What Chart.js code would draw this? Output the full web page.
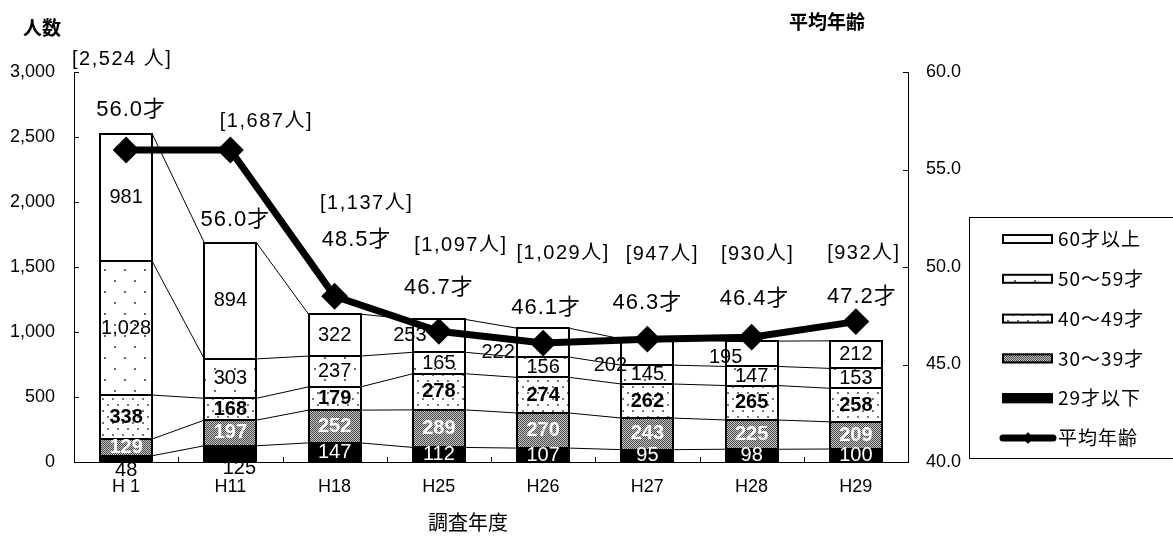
<!DOCTYPE html>
<html>
<head>
<meta charset="utf-8">
<script src="https://cdn.jsdelivr.net/npm/chart.js@4.4.0/dist/chart.umd.min.js"></script>
<style>
  html, body { margin: 0; padding: 0; background: #fff; }
  canvas { display: block; }
</style>
</head>
<body>
<canvas id="chart" width="1173" height="536"></canvas>
<script>
// survey years and head counts by age band
var years = ['H 1', 'H11', 'H18', 'H25', 'H26', 'H27', 'H28', 'H29'];
var under29 = [48, 125, 147, 112, 107, 95, 98, 100];
var age30s = [129, 197, 252, 289, 270, 243, 225, 209];
var age40s = [338, 168, 179, 278, 274, 262, 265, 258];
var age50s = [1028, 303, 237, 165, 156, 145, 147, 153];
var over60 = [981, 894, 322, 253, 222, 202, 195, 212];
var totals = [2524, 1687, 1137, 1097, 1029, 947, 930, 932];
var avgAge = [56.0, 56.0, 48.5, 46.7, 46.1, 46.3, 46.4, 47.2];

var countTicks = { min: 0, max: 3000, step: 500 };
var ageTicks = { min: 40, max: 60, step: 5 };

var FONT = "'Liberation Sans', 'Noto Sans CJK JP', sans-serif";
var JP = "'Noto Sans CJK JP', 'Liberation Sans', sans-serif";

var canvas = document.getElementById('chart');
var ctx = canvas.getContext('2d');

function tile(w, h, paint) {
  var c = document.createElement('canvas');
  c.width = w; c.height = h;
  var g = c.getContext('2d');
  g.fillStyle = '#fff';
  g.fillRect(0, 0, w, h);
  paint(g);
  return ctx.createPattern(c, 'repeat');
}

var sparseDots = tile(20, 22, function (g) {
  g.fillStyle = '#666';
  g.fillRect(4, 5, 2, 2);
  g.fillRect(14, 16, 2, 2);
});
var denseDots = tile(10, 12, function (g) {
  g.fillStyle = '#777';
  g.fillRect(2, 2, 2, 2);
  g.fillRect(7, 8, 2, 2);
});
var checker = tile(2, 2, function (g) {
  g.fillStyle = '#4a4a4a';
  g.fillRect(0, 0, 1, 1);
  g.fillRect(1, 1, 1, 1);
  g.fillStyle = '#c4c4c4';
  g.fillRect(1, 0, 1, 1);
  g.fillRect(0, 1, 1, 1);
});

function barSet(label, data, fill, textColor, weight) {
  return {
    type: 'bar', label: label, data: data, yAxisID: 'y', order: 1,
    backgroundColor: fill, borderWidth: 0,
    barPercentage: 0.5, categoryPercentage: 1.0,
    textColor: textColor, textWeight: weight
  };
}

// label nudges (px) for crowded segments: key = dataset index + '-' + category index
var segNudge = {
  '1-0': { dx: 0, dy: 12, color: '#000' },
  '1-1': { dx: 9, dy: 15, color: '#000' },
  '5-3': { dx: -29, dy: 0 },
  '5-4': { dx: -45, dy: 10 },
  '5-5': { dx: -37, dy: 13 },
  '5-6': { dx: -26, dy: 4 }
};
var ageNudge = [[5, -40], [5, 70], [22, -56], [0, -43], [3, -35], [0, -36], [3, -38], [6, -25]];
var totalNudge = [[-4, -74], [36, -121], [32, -111], [22, -74], [20, -75], [15, -84], [6, -87], [8, -87]];

var datasets = [
  {
    type: 'line', label: '平均年齢', data: avgAge, yAxisID: 'y1', order: 0,
    borderColor: '#000', borderWidth: 7, backgroundColor: '#000',
    pointStyle: 'rectRot', pointRadius: 12, pointBorderWidth: 2,
    pointBackgroundColor: '#000', pointBorderColor: '#000', tension: 0
  },
  barSet('29才以下', under29, '#000', '#fff', 'normal'),
  barSet('30～39才', age30s, checker, '#fff', 'bold'),
  barSet('40～49才', age40s, denseDots, '#000', 'bold'),
  barSet('50～59才', age50s, sparseDots, '#000', 'normal'),
  barSet('60才以上', over60, '#fff', '#000', 'normal')
];

function text(str, x, y, font, color, align, spacing) {
  ctx.save();
  ctx.font = font;
  ctx.fillStyle = color || '#000';
  ctx.textAlign = align || 'center';
  ctx.textBaseline = 'middle';
  ctx.letterSpacing = spacing || '0px';
  ctx.fillText(str, x, y);
  ctx.restore();
}

var decorations = {
  id: 'decorations',
  beforeDatasetsDraw: function (chart) {
    // thin series lines joining the segment tops of neighbouring bars
    var c = chart.ctx;
    c.save();
    c.strokeStyle = '#000';
    c.lineWidth = 1;
    chart.data.datasets.forEach(function (ds, i) {
      if (ds.type !== 'bar') return;
      var els = chart.getDatasetMeta(i).data;
      for (var j = 0; j < els.length - 1; j++) {
        var a = els[j], b = els[j + 1];
        c.beginPath();
        c.moveTo(a.x + a.width / 2, a.y);
        c.lineTo(b.x - b.width / 2, b.y);
        c.stroke();
      }
    });
    c.restore();
  },
  afterDatasetDraw: function (chart, args) {
    // bars are drawn top series first, so index 1 is the last bar set
    if (args.index !== 1) return;
    var c = chart.ctx;
    var barIdx = [1, 2, 3, 4, 5];
    var base = args.meta.data;
    // 2px frames around every segment
    c.save();
    c.strokeStyle = '#000';
    c.lineWidth = 2;
    base.forEach(function (el, j) {
      var l = Math.round(el.x - el.width / 2);
      var r = Math.round(el.x + el.width / 2);
      var bt = Math.round(el.base);
      var tp = Math.round(chart.getDatasetMeta(5).data[j].y);
      c.beginPath();
      c.moveTo(l, bt); c.lineTo(l, tp);
      c.moveTo(r, bt); c.lineTo(r, tp);
      c.moveTo(l - 1, bt); c.lineTo(r + 1, bt);
      barIdx.forEach(function (di) {
        var y = Math.round(chart.getDatasetMeta(di).data[j].y);
        c.moveTo(l - 1, y); c.lineTo(r + 1, y);
      });
      c.stroke();
    });
    c.restore();
    // segment values
    barIdx.forEach(function (di) {
      var ds = chart.data.datasets[di];
      chart.getDatasetMeta(di).data.forEach(function (el, j) {
        var n = segNudge[di + '-' + j] || {};
        var x = el.x + (n.dx || 0);
        var y = (el.y + el.base) / 2 + (n.dy || 0);
        text(ds.data[j].toLocaleString('en-US'), x, y,
          ds.textWeight + ' 20px ' + FONT, n.color || ds.textColor);
      });
    });
  },
  afterDraw: function (chart) {
    var c = chart.ctx;
    var area = chart.chartArea;
    var sy = chart.scales.y, sy1 = chart.scales.y1;

    // inward tick marks
    c.save();
    c.strokeStyle = '#000';
    c.lineWidth = 1;
    c.beginPath();
    sy.ticks.forEach(function (t) {
      var p = Math.round(sy.getPixelForValue(t.value)) + 0.5;
      c.moveTo(area.left, p); c.lineTo(area.left + 5, p);
    });
    sy1.ticks.forEach(function (t) {
      var p = Math.round(sy1.getPixelForValue(t.value)) + 0.5;
      c.moveTo(area.right, p); c.lineTo(area.right - 5, p);
    });
    var cw = (area.right - area.left) / years.length;
    for (var k = 1; k < years.length; k++) {
      var px = Math.round(area.left + k * cw) + 0.5;
      c.moveTo(px, area.bottom); c.lineTo(px, area.bottom - 5);
    }
    c.stroke();
    c.restore();

    // average age and head-count totals
    var line = chart.getDatasetMeta(0).data;
    var top = chart.getDatasetMeta(5).data;
    line.forEach(function (pt, j) {
      text(avgAge[j].toFixed(1) + '才', pt.x + ageNudge[j][0], pt.y + ageNudge[j][1],
        '22px ' + FONT, '#000', 'center', '1px');
    });
    top.forEach(function (el, j) {
      var s = '[' + totals[j].toLocaleString('en-US') + (j === 0 ? ' 人]' : '人]');
      text(s, el.x + totalNudge[j][0], el.y + totalNudge[j][1],
        '20px ' + FONT, '#000', 'center', '1.5px');
    });

    // axis titles
    text('人数', 42, 28, 'bold 19px ' + JP, '#000');
    text('平均年齢', 827, 22, 'bold 19px ' + JP, '#000');
    text('調査年度', 468, 522, '20px ' + JP, '#000');

    // legend
    c.save();
    c.strokeStyle = '#000';
    c.lineWidth = 1;
    c.strokeRect(969.5, 217.5, 220, 241);
    var order = [5, 4, 3, 2, 1, 0];
    order.forEach(function (di, n) {
      var ds = chart.data.datasets[di];
      var cy = 239 + n * 39.8;
      if (ds.type === 'bar') {
        c.fillStyle = ds.backgroundColor;
        c.fillRect(1002, cy - 5, 51, 10);
        c.lineWidth = 2;
        c.strokeRect(1003, cy - 4, 49, 8);
      } else {
        c.lineWidth = 7;
        c.lineCap = 'round';
        c.beginPath();
        c.moveTo(1003, cy); c.lineTo(1053, cy);
        c.stroke();
        c.fillStyle = '#000';
        c.beginPath();
        c.moveTo(1028, cy - 6); c.lineTo(1033, cy); c.lineTo(1028, cy + 6); c.lineTo(1023, cy);
        c.closePath(); c.fill();
      }
      text(ds.label, 1058, cy, '19px ' + JP, '#000', 'left', '1px');
    });
    c.restore();
  }
};

new Chart(ctx, {
  data: { labels: years, datasets: datasets },
  options: {
    responsive: false,
    animation: false,
    devicePixelRatio: 1,
    layout: { padding: { top: 72, left: 0, right: 0, bottom: 0 } },
    plugins: { legend: { display: false }, tooltip: { enabled: false } },
    scales: {
      x: {
        stacked: true,
        grid: { display: false, drawTicks: false },
        border: { display: true, color: '#000', width: 1 },
        ticks: { color: '#000', padding: 14, font: { family: FONT, size: 18 } },
        afterFit: function (s) { s.height = 74; }
      },
      y: {
        stacked: true, position: 'left',
        min: countTicks.min, max: countTicks.max,
        grid: { display: false, drawTicks: false },
        border: { display: true, color: '#000', width: 1 },
        ticks: {
          stepSize: countTicks.step, color: '#000', padding: 19,
          font: { family: FONT, size: 18 },
          callback: function (v) { return v.toLocaleString('en-US'); }
        },
        afterFit: function (s) { s.width = 74; }
      },
      y1: {
        position: 'right',
        min: ageTicks.min, max: ageTicks.max,
        grid: { display: false, drawTicks: false },
        border: { display: true, color: '#000', width: 1 },
        ticks: {
          stepSize: ageTicks.step, color: '#000', padding: 18,
          font: { family: FONT, size: 18 },
          callback: function (v) { return v.toFixed(1); }
        },
        afterFit: function (s) { s.width = 265; }
      }
    }
  },
  plugins: [decorations]
});
</script>
</body>
</html>
